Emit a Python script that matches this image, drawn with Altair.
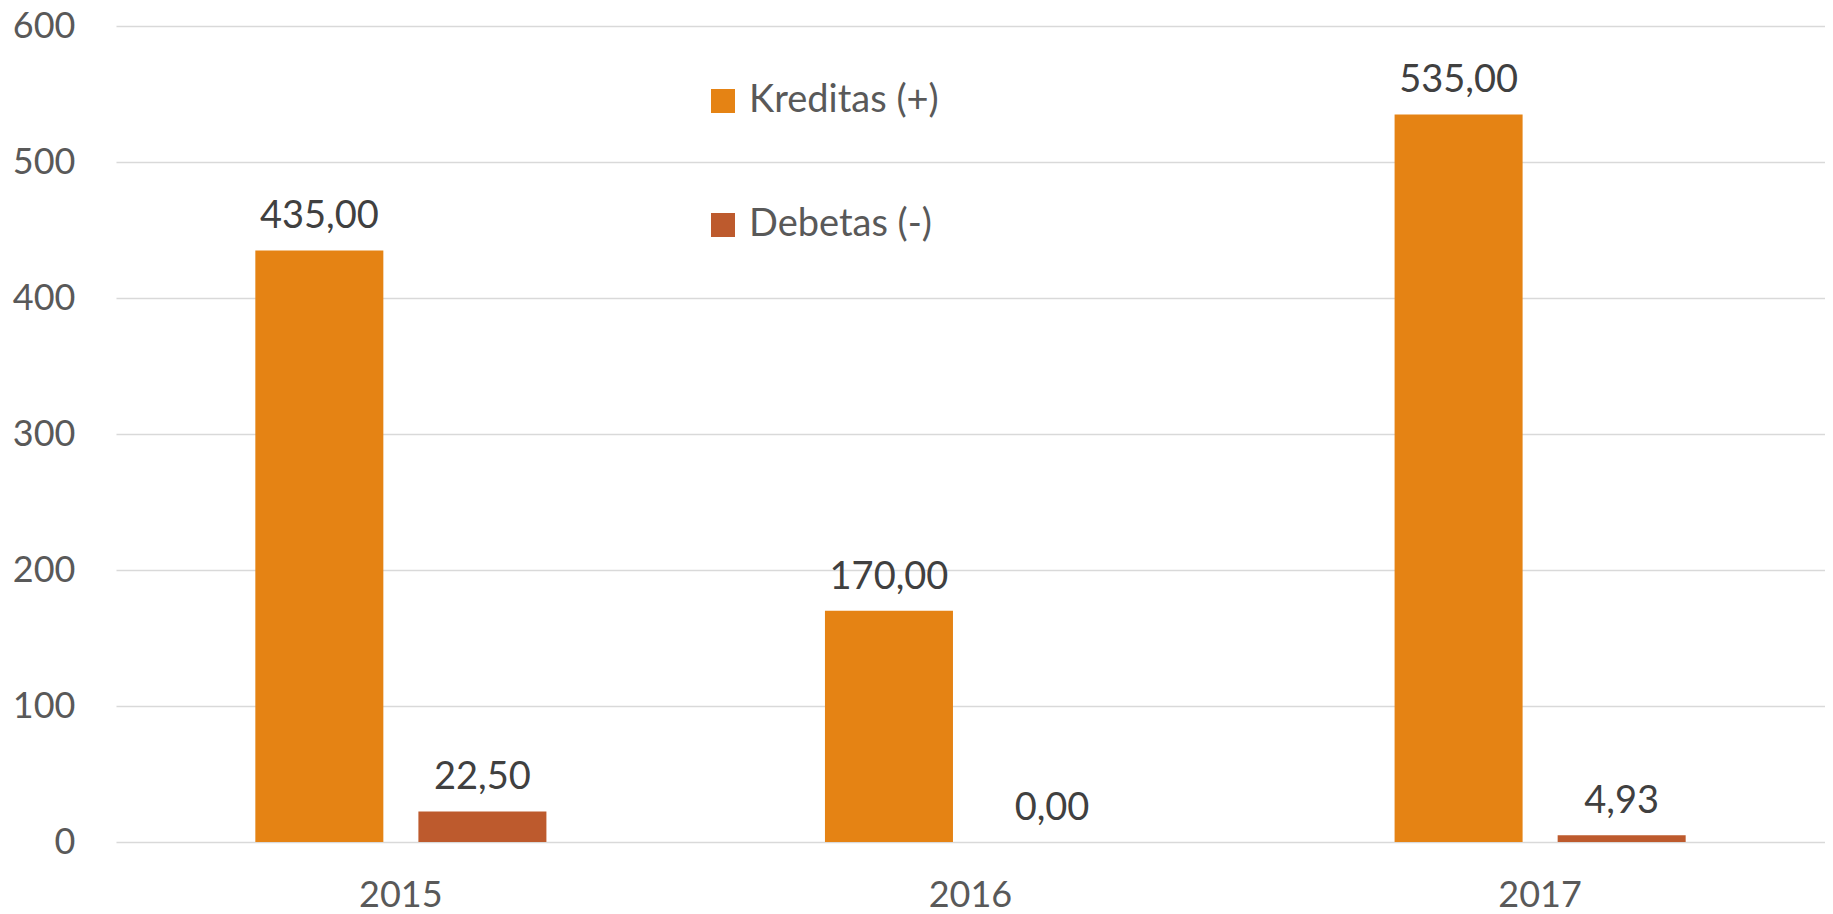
import altair as alt
import pandas as pd

years = ["2015", "2016", "2017"]
series = ["Kreditas (+)", "Debetas (-)"]
kreditas = [435.00, 170.00, 535.00]
debetas = [22.50, 0.00, 4.93]
colors = ["#E58314", "#BD5A2D"]
y_ticks = [0, 100, 200, 300, 400, 500, 600]

rows = []
for i, yr in enumerate(years):
    for s, vals in zip(series, [kreditas, debetas]):
        rows.append({"year": yr, "series": s, "value": vals[i],
                     "label": f"{vals[i]:.2f}".replace(".", ",")})
df = pd.DataFrame(rows)

FONT = "Lato"

x = alt.X("year:N", sort=years,
          scale=alt.Scale(paddingInner=0.489, paddingOuter=0.2446),
          axis=alt.Axis(title=None, labelAngle=0, domain=False, ticks=False,
                        labelFontSize=36, labelColor="#595959", labelPadding=36,
                        labelFont=FONT, grid=False))
xo = alt.XOffset("series:N", sort=series,
                 scale=alt.Scale(paddingInner=0.215, paddingOuter=0))
y = alt.Y("value:Q", scale=alt.Scale(domain=[0, 600], nice=False),
          axis=alt.Axis(title=None, values=y_ticks, domain=False, ticks=False,
                        grid=True, gridColor="#D9D9D9", gridWidth=1.5,
                        labelFontSize=36, labelColor="#595959", labelPadding=41,
                        labelFont=FONT))

bars = alt.Chart(df).mark_bar().encode(
    x=x, xOffset=xo, y=y,
    color=alt.Color("series:N", sort=series,
                    scale=alt.Scale(domain=series, range=colors),
                    legend=alt.Legend(title=None, orient="none", legendX=588, legendY=56,
                                      symbolType="square", symbolSize=576,
                                      labelFontSize=38, labelColor="#595959",
                                      labelFont=FONT, rowPadding=86, labelOffset=7,
                                      labelLimit=500,
                                      symbolStrokeWidth=0, direction="vertical",
                                      padding=0)),
)
text = alt.Chart(df).mark_text(dy=-22, baseline="alphabetic", fontSize=38,
                               color="#404040", font=FONT).encode(
    x=x, xOffset=xo, y=y, text="label:N")

chart = (bars + text).properties(
    width=1709, height=816,
    autosize=alt.AutoSizeParams(type="none"),
    padding={"left": 108, "top": 18, "right": 0, "bottom": 72},
).configure_view(stroke=None)

chart.save("out.html", embed_options={"renderer": "svg", "actions": False})
